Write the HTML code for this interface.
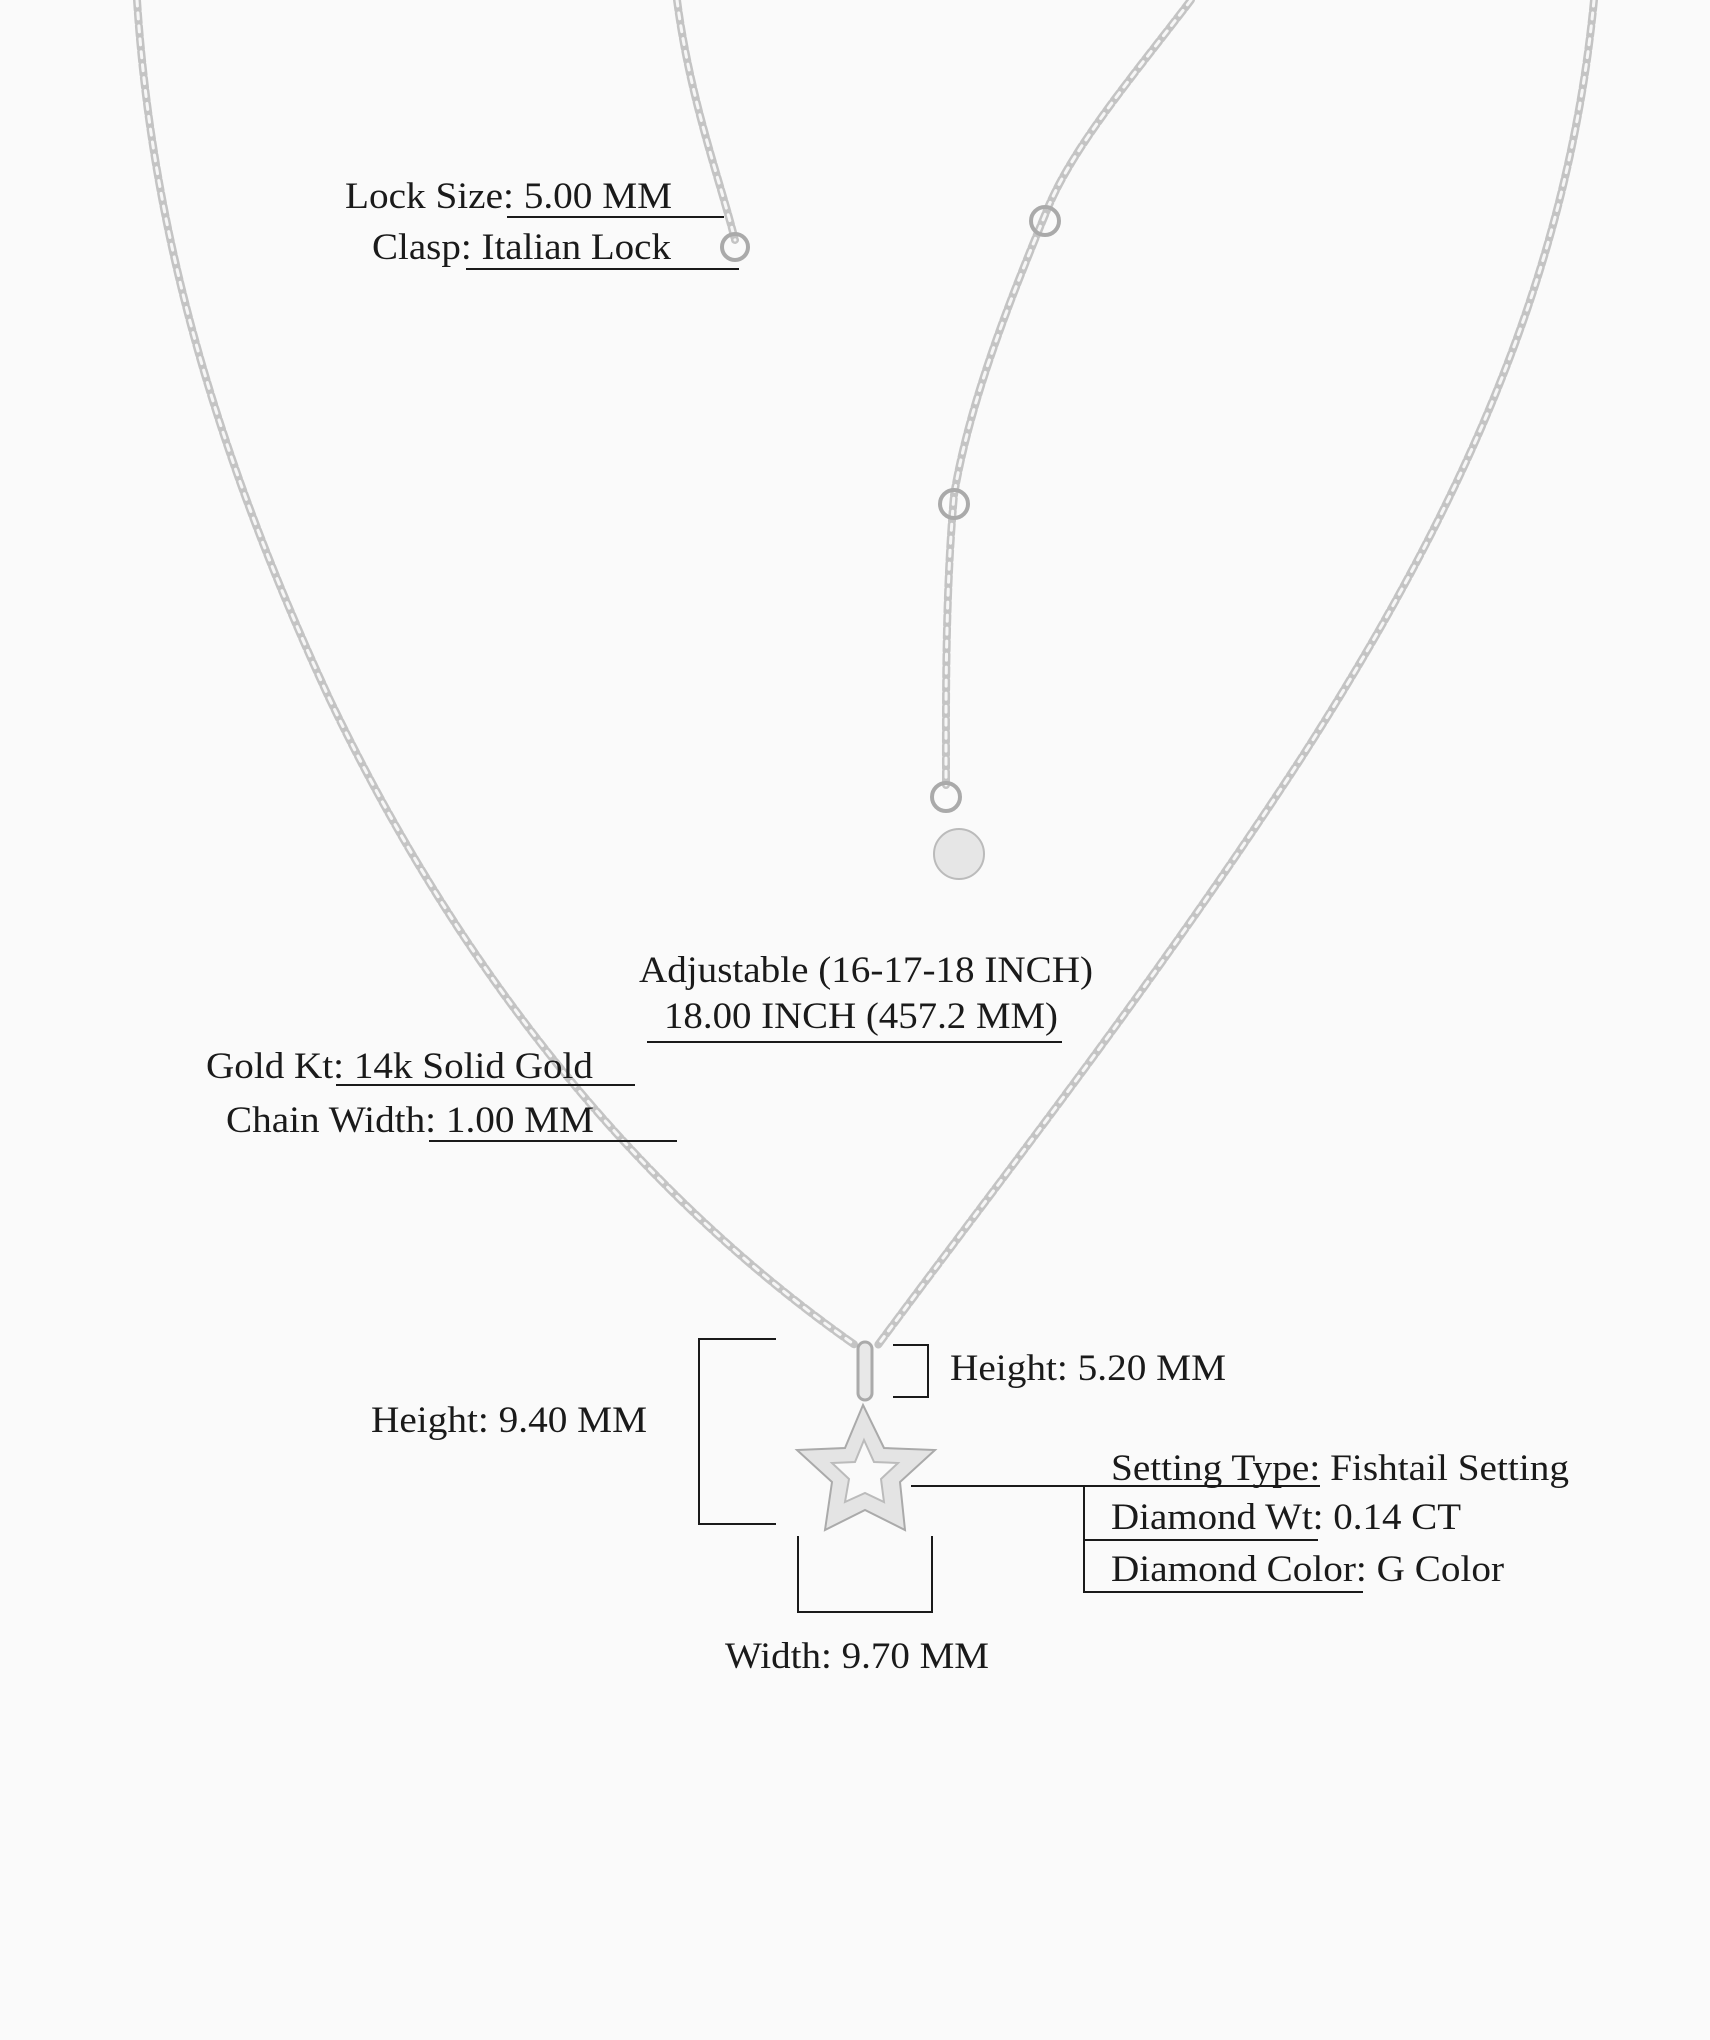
<!DOCTYPE html>
<html><head><meta charset="utf-8"><style>
html,body{margin:0;padding:0;background:#fafafa;}
svg{display:block}
text{font-family:"Liberation Serif",serif;font-size:37px;fill:#1a1a1a}
</style></head><body>
<svg width="1710" height="2040" viewBox="0 0 1710 2040" xmlns="http://www.w3.org/2000/svg">
<rect width="1710" height="2040" fill="#fafafa"/>
<g fill="none" stroke-linecap="round">
<g stroke="#c4c4c4" stroke-width="8" stroke-dasharray="10 3">
<path d="M137,0 C150,200 200,420 330,700 C450,950 620,1180 855,1345"/>
<path d="M1594,0 C1570,250 1480,480 1300,760 C1150,990 1000,1180 878,1345"/>
<path d="M677,0 C690,100 720,180 735,240"/>
<path d="M1191,0 C1130,80 1070,150 1045,215 C1010,300 970,400 954,495 C945,600 946,700 946,785"/>
</g>
<g stroke="#f6f6f6" stroke-width="3" stroke-dasharray="6 7">
<path d="M137,0 C150,200 200,420 330,700 C450,950 620,1180 855,1345"/>
<path d="M1594,0 C1570,250 1480,480 1300,760 C1150,990 1000,1180 878,1345"/>
<path d="M677,0 C690,100 720,180 735,240"/>
<path d="M1191,0 C1130,80 1070,150 1045,215 C1010,300 970,400 954,495 C945,600 946,700 946,785"/>
</g>
<g stroke="#aaa" stroke-width="4">
<circle cx="735" cy="247" r="13"/>
<circle cx="1045" cy="221" r="14"/>
<circle cx="954" cy="504" r="14"/>
<circle cx="946" cy="797" r="14"/>
</g>
<circle cx="959" cy="854" r="25" fill="#e6e6e6" stroke="#bbb" stroke-width="2"/>
<rect x="858" y="1342" width="14" height="58" rx="7" fill="#e8e8e8" stroke="#aaa" stroke-width="3"/>
<path d="M863,1405 L884,1448 L935,1450 L900,1482 L905,1530 L865,1510 L825,1530 L832,1482 L797,1450 L845,1448 Z" fill="#e4e4e4" stroke="#aaa" stroke-width="2"/>
<path d="M864,1440 L874,1462 L898,1463 L881,1479 L884,1502 L865,1493 L845,1502 L849,1479 L832,1463 L855,1462 Z" fill="#fafafa" stroke="#bbb" stroke-width="2"/>
</g>
<g stroke="#1a1a1a" stroke-width="2" fill="none">
<path d="M507,217 H724"/>
<path d="M466,269 H739"/>
<path d="M647,1042 H1062"/>
<path d="M336,1085 H635"/>
<path d="M429,1141 H677"/>
<path d="M776,1339 H699 V1524 H776"/>
<path d="M893,1345 H928 V1397 H893"/>
<path d="M798,1536 V1612 H932 V1536"/>
<path d="M911,1486 H1320"/>
<path d="M1084,1486 V1592 H1363"/>
<path d="M1084,1540 H1318"/>
</g>
<text x="345" y="208" textLength="327" lengthAdjust="spacingAndGlyphs">Lock Size: 5.00 MM</text>
<text x="372" y="259" textLength="299" lengthAdjust="spacingAndGlyphs">Clasp: Italian Lock</text>
<text x="639" y="982" textLength="454" lengthAdjust="spacingAndGlyphs">Adjustable (16-17-18 INCH)</text>
<text x="664" y="1028" textLength="394" lengthAdjust="spacingAndGlyphs">18.00 INCH (457.2 MM)</text>
<text x="206" y="1078" textLength="387" lengthAdjust="spacingAndGlyphs">Gold Kt: 14k Solid Gold</text>
<text x="226" y="1132" textLength="368" lengthAdjust="spacingAndGlyphs">Chain Width: 1.00 MM</text>
<text x="371" y="1432" textLength="276" lengthAdjust="spacingAndGlyphs">Height: 9.40 MM</text>
<text x="950" y="1380" textLength="276" lengthAdjust="spacingAndGlyphs">Height: 5.20 MM</text>
<text x="1111" y="1480" textLength="458" lengthAdjust="spacingAndGlyphs">Setting Type: Fishtail Setting</text>
<text x="1111" y="1529" textLength="350" lengthAdjust="spacingAndGlyphs">Diamond Wt: 0.14 CT</text>
<text x="1111" y="1581" textLength="393" lengthAdjust="spacingAndGlyphs">Diamond Color: G Color</text>
<text x="725" y="1668" textLength="264" lengthAdjust="spacingAndGlyphs">Width: 9.70 MM</text>
</svg>
</body></html>
